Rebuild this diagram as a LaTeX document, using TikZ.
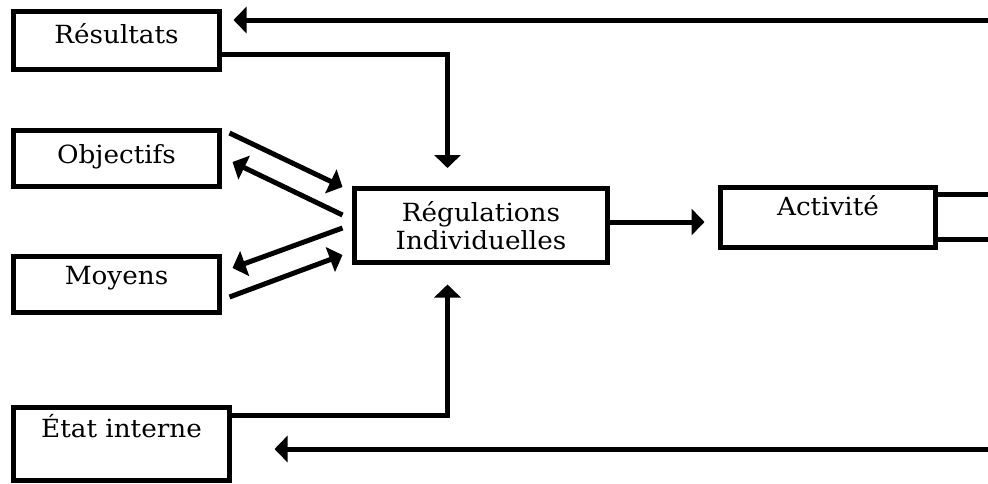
\documentclass[tikz,border=0pt]{standalone}
\usepackage{fontspec}
\setmainfont[FakeStretch=1.05]{DejaVu Serif}
\usetikzlibrary{arrows.meta,calc}
\begin{document}
\begin{tikzpicture}[x=0.5pt,y=-0.5pt,
		bloc/.style={draw,line width=2.5pt,inner ysep=0pt,align=center,font=\fontsize{12.5}{14}\selectfont},
		fl/.style={line width=2.5pt,-{Triangle[length=6.5pt,width=13pt]}}]
		\useasboundingbox (0,0) rectangle (988,483);
		\node[bloc,minimum width=103pt,text height=15.75pt,text depth=13.25pt] (res) at (116.5,40.5) {Résultats};
		\node[bloc,minimum width=103pt,text height=16.25pt,text depth=11.75pt] (obj) at (116.5,158.5) {Objectifs};
		\node[bloc,minimum width=103pt,text height=13.75pt,text depth=14.25pt] (moy) at (116.5,284.5) {Moyens};
		\node[bloc,minimum width=108pt,text height=14.75pt,text depth=21.75pt] (etat) at (121.5,444) {État interne};
		\node[bloc,minimum width=126.5pt,minimum height=37pt] (reg) at (481,225.5) {Régulations\\Individuelles};
		\node[bloc,minimum width=107.5pt,text height=13.75pt,text depth=16.25pt] (act) at (828,217.5) {Activité};
		\coordinate (rt) at (988,20);
		\coordinate (rb) at (988,449);
		
		\draw[fl] (rt) -- ($(res.east |- rt)+(5.75pt,0)$);
		\draw[fl] ([yshift=-6.75pt]res.east) -| ([xshift=-16.75pt,yshift=9pt]reg.north);
		\draw[fl] ([yshift=14.5pt]etat.east) -| ([xshift=-16.75pt,yshift=-9.75pt]reg.south);
		\draw[fl] (rb) -- ($(etat.east |- rb)+(21.25pt,0)$);
		
		\draw[fl] ([xshift=3.75pt,yshift=12.75pt]obj.east) -- ([xshift=-4.75pt,yshift=19.25pt]reg.west);
		\draw[fl] ([xshift=-4.75pt,yshift=5.25pt]reg.west) -- ([xshift=5.25pt,yshift=-1.75pt]obj.east);
		\draw[fl] ([xshift=-4.75pt,yshift=-1.25pt]reg.west) -- ([xshift=5.25pt,yshift=8.25pt]moy.east);
		\draw[fl] ([xshift=3.75pt,yshift=-6.25pt]moy.east) -- ([xshift=-4.75pt,yshift=-14.75pt]reg.west);
		
		\draw[fl] ([yshift=1.75pt]reg.east) coordinate (r1) -- ($(r1 -| act.west)+(-6.75pt,0)$);
		\draw[line width=2.5pt] ([yshift=11.75pt]act.east) coordinate (a1) -- (a1 -| rt);
		\draw[line width=2.5pt] ([yshift=-10.75pt]act.east) coordinate (a2) -- (a2 -| rt);
	\end{tikzpicture}
\end{document}
